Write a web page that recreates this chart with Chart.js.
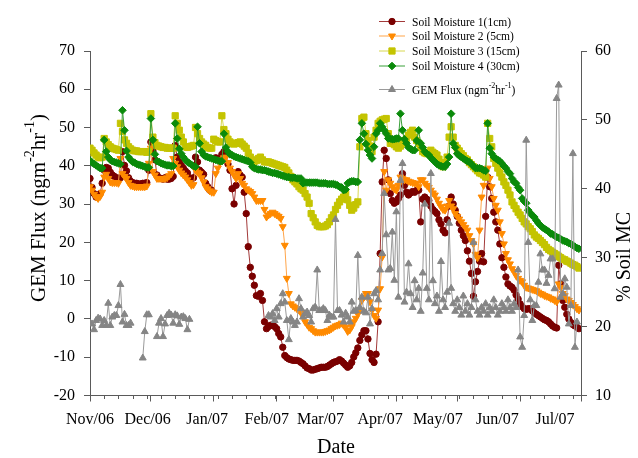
<!DOCTYPE html>
<html>
<head>
<meta charset="utf-8">
<script src="https://cdn.jsdelivr.net/npm/chart.js@4.4.1/dist/chart.umd.min.js"></script>
<style>
  html, body { margin: 0; padding: 0; background: #fff; }
  #wrap { width: 638px; height: 458px; }
</style>
</head>
<body>
<div id="wrap"><canvas id="chart" width="638" height="458"></canvas></div>
<script>
// x axis is in days since Nov 1 2006
const monthLabels = ['Nov/06', 'Dec/06', 'Jan/07', 'Feb/07', 'Mar/07', 'Apr/07', 'May/07', 'Jun/07', 'Jul/07'];
const monthStartDays = [0, 30, 61, 92, 120, 151, 181, 212, 242];

const fluxTicks = [-20, -10, 0, 10, 20, 30, 40, 50, 60, 70];
const moistureTicks = [10, 20, 30, 40, 50, 60];

// daily soil moisture (%), one value per day starting Nov 1
const soil1 = [
  41.5, 40.2, 39.3, 38.8, 38.9, 39.3, 40.8, 42.7, 43.1, 43.0,
  42.4, 42.0, 41.8, 41.6, 41.5, 41.6, 45.4, 43.4, 42.6, 41.6,
  41.1, 40.9, 40.8, 40.8, 40.7, 40.7, 40.8, 40.8, 40.9, 42.7,
  46.8, 45.5, 44.2, 42.0, 41.6, 41.5, 41.4, 41.6, 41.4, 41.4,
  41.5, 41.8, 46.3, 44.6, 43.9, 43.4, 43.0, 42.6, 42.3, 41.6,
  41.4, 41.6, 44.6, 43.9, 42.7, 42.4, 42.1, 40.8, 40.3, 39.8,
  39.8, 44.4, 44.5, 44.3, 44.4, 45.0, 45.4, 45.0, 43.6, 42.7,
  40.0, 37.8, 40.5, 42.5, 42.0, 41.7, 39.5, 36.4, 31.6, 28.6,
  27.3, 26.0, 24.5, 24.4, 24.8, 23.8, 20.7, 19.7, 20.0, 20.2,
  20.2, 20.0, 19.7, 19.0, 18.5, 17.0, 15.8, 15.5, 15.3, 15.2,
  15.1, 15.1, 15.1, 15.0, 14.8, 14.6, 14.3, 14.0, 13.9, 13.7,
  13.7, 13.8, 13.9, 14.0, 14.1, 14.1, 14.1, 14.2, 14.4, 14.6,
  14.8, 14.9, 15.0, 15.2, 15.0, 14.7, 14.4, 14.1, 14.3, 14.8,
  15.6, 16.2, 16.9, 18.0, 18.8, 19.4, 19.4, 18.2, 16.1, 15.2,
  14.8, 16.0, 20.7, 30.6, 41.0, 45.6, 44.4, 41.3, 39.3, 38.3,
  37.9, 38.1, 38.6, 39.1, 42.2, 40.5, 39.5, 39.1, 39.4, 39.6,
  39.5, 39.8, 39.8, 35.2, 38.5, 38.8, 38.5, 38.3, 37.5, 37.0,
  36.7, 36.4, 35.5, 34.9, 34.0, 33.6, 35.5, 37.5, 38.8, 37.8,
  36.9, 36.0, 35.0, 34.0, 33.2, 32.5, 31.0, 29.5, 27.7, 24.4,
  26.5, 28.0, 29.5, 30.6, 29.4, 36.0, 41.7, 40.3, 38.6, 36.6,
  35.2, 34.0, 32.0, 30.0, 28.6, 27.2, 26.2, 25.9, 25.7, 25.3,
  24.6, 24.0, 23.3, 22.9, 22.6, 22.5, 22.6, 22.6, 22.3, 22.0,
  21.8, 21.6, 21.4, 21.2, 21.0, 20.9, 20.7, 20.4, 20.1, 19.9,
  19.8, 28.9, 26.2, 23.8, 22.8, 21.8, 21.1, 20.6, 20.3, 20.1,
  19.9, 19.7
];

const soil2 = [
  40.3, 39.8, 39.2, 38.8, 38.6, 38.9, 39.5, 41.7, 42.1, 41.5,
  41.0, 40.9, 40.9, 40.9, 40.8, 44.4, 42.2, 41.8, 41.5, 40.9,
  40.5, 40.4, 40.3, 40.3, 40.3, 40.3, 40.3, 40.3, 40.4, 43.7,
  45.9, 42.5, 42.0, 41.5, 41.5, 41.5, 41.5, 41.5, 41.6, 41.9,
  42.2, 44.4, 43.7, 43.2, 42.7, 42.3, 42.0, 41.7, 41.3, 40.9,
  40.5, 40.6, 42.7, 42.4, 42.2, 41.6, 41.0, 40.3, 40.0, 39.7,
  39.5, 39.5, 42.2, 43.0, 43.8, 44.2, 44.5, 44.6, 43.8, 43.0,
  42.5, 42.0, 41.5, 42.2, 41.5, 40.8, 40.5, 40.0, 39.8, 39.6,
  39.3, 38.8, 38.3, 38.3, 38.3, 38.3, 37.0, 35.9, 36.2, 36.4,
  36.6, 36.4, 36.2, 36.0, 35.7, 34.5, 31.8, 27.0, 24.8, 23.3,
  23.0, 22.8, 22.6, 22.4, 22.0, 21.6, 20.7, 20.3, 19.9, 19.7,
  19.4, 19.2, 19.2, 19.2, 19.2, 19.2, 19.3, 19.4, 19.5, 19.7,
  19.9, 20.1, 20.2, 20.3, 20.5, 20.2, 19.9, 19.3, 19.5, 20.0,
  20.7, 21.2, 21.8, 22.4, 23.8, 24.3, 24.8, 24.8, 23.6, 22.4,
  21.6, 21.2, 22.4, 25.5, 30.1, 42.5, 39.8, 41.3, 40.8, 40.3,
  40.0, 39.8, 40.5, 41.7, 41.5, 41.3, 41.3, 41.1, 41.0, 40.9,
  40.8, 40.8, 40.3, 41.3, 41.3, 40.8, 40.5, 40.2, 39.8, 39.4,
  39.1, 38.5, 37.9, 37.4, 37.0, 36.9, 37.5, 38.3, 37.5, 37.1,
  36.4, 36.0, 35.6, 35.2, 34.8, 34.4, 34.0, 33.2, 32.5, 32.0,
  30.5, 30.0, 34.0, 38.8, 40.5, 41.7, 43.0, 41.5, 40.3, 38.6,
  37.6, 36.9, 35.2, 33.5, 32.0, 30.6, 29.7, 29.1, 28.4, 28.0,
  27.4, 27.0, 26.7, 26.5, 26.0, 25.7, 25.6, 25.5, 25.4, 25.3,
  25.2, 25.0, 24.8, 24.7, 24.5, 24.4, 24.3, 24.1, 24.0, 23.8,
  23.6, 26.2, 25.7, 24.8, 24.5, 24.0, 23.8, 23.5, 23.2, 22.9,
  22.6, 22.4
];

const soil3 = [
  45.9, 45.6, 45.2, 44.9, 44.6, 44.5, 44.6, 47.3, 46.8, 46.4,
  46.1, 45.9, 45.8, 45.7, 45.6, 49.5, 48.3, 47.1, 46.6, 46.1,
  45.8, 45.6, 45.5, 45.5, 45.4, 45.4, 45.4, 45.4, 45.3, 45.4,
  50.9, 47.5, 46.7, 46.3, 46.2, 46.1, 46.0, 46.0, 45.9, 45.9,
  45.9, 45.9, 50.6, 49.5, 48.5, 47.5, 46.8, 46.1, 46.0, 46.1,
  46.2, 46.3, 48.9, 48.0, 47.3, 46.8, 46.5, 46.3, 46.0, 45.9,
  45.9, 47.2, 47.0, 46.8, 46.8, 50.6, 48.6, 48.0, 47.2, 46.8,
  46.6, 46.5, 46.6, 46.7, 46.8, 46.5, 46.2, 45.9, 45.2, 44.6,
  44.2, 44.0, 44.1, 44.4, 44.6, 44.2, 43.9, 43.9, 43.9, 43.8,
  43.7, 43.6, 43.5, 43.4, 43.3, 43.2, 43.1, 42.7, 42.3, 41.8,
  41.3, 41.0, 40.7, 40.3, 40.0, 39.8, 39.3, 38.8, 37.9, 36.4,
  35.8, 35.2, 34.7, 34.5, 34.5, 34.5, 34.6, 34.8, 35.2, 35.8,
  36.2, 37.0, 37.6, 38.1, 38.5, 38.8, 39.3, 38.4, 37.6, 36.9,
  37.2, 37.7, 38.1, 46.1, 50.2, 50.4, 48.0, 47.0, 46.2, 45.4,
  47.5, 48.5, 49.5, 49.8, 50.0, 50.1, 50.2, 48.0, 46.6, 46.6,
  46.4, 46.1, 45.9, 46.2, 46.6, 47.0, 47.3, 47.8, 48.2, 48.5,
  47.5, 47.0, 46.6, 46.0, 45.4, 45.2, 45.1, 45.3, 45.6, 45.3,
  45.1, 44.9, 44.3, 43.7, 43.2, 43.8, 44.6, 47.5, 49.0, 47.5,
  46.3, 45.9, 45.5, 45.1, 44.8, 44.4, 44.2, 43.8, 43.5, 43.2,
  42.9, 42.6, 42.3, 42.2, 42.0, 41.7, 49.5, 47.3, 46.1, 44.4,
  43.7, 43.0, 42.3, 41.7, 41.0, 40.5, 39.8, 39.1, 38.1, 37.6,
  37.1, 36.6, 36.2, 35.7, 35.2, 34.9, 34.5, 34.2, 33.8, 33.3,
  33.0, 32.8, 32.5, 32.2, 31.9, 31.5, 31.2, 31.0, 30.8, 30.6,
  30.4, 30.2, 30.0, 29.8, 29.7, 29.5, 29.4, 29.2, 29.0, 28.9,
  28.7, 28.5
];

const soil4 = [
  44.1, 43.8, 43.6, 43.4, 43.2, 43.0, 43.0, 47.1, 45.4, 44.6,
  44.2, 44.0, 43.9, 43.8, 43.7, 43.6, 51.4, 48.5, 45.5, 44.6,
  44.2, 43.9, 43.8, 43.6, 43.5, 43.4, 43.3, 43.2, 43.1, 43.1,
  50.2, 47.1, 45.0, 44.0, 43.9, 43.7, 43.6, 43.5, 43.4, 43.4,
  43.3, 43.3, 49.5, 47.3, 45.8, 45.1, 44.6, 44.2, 43.9, 43.7,
  43.5, 43.3, 43.2, 49.0, 46.6, 45.4, 44.9, 44.7, 44.6, 44.5,
  44.4, 44.3, 44.2, 44.1, 44.0, 44.0, 48.0, 46.0, 45.4, 45.0,
  44.9, 44.7, 44.6, 44.5, 44.4, 44.3, 44.2, 44.1, 44.0, 43.8,
  43.2, 43.0, 42.9, 42.8, 42.8, 42.7, 42.7, 42.6, 42.5, 42.4,
  42.3, 42.3, 42.2, 42.1, 42.0, 41.9, 41.8, 41.7, 41.7, 41.6,
  41.6, 41.6, 41.5, 41.5, 41.5, 40.8, 40.9, 40.9, 40.9, 40.9,
  40.9, 40.9, 40.9, 40.8, 40.8, 40.8, 40.8, 40.7, 40.7, 40.7,
  40.7, 40.6, 40.5, 40.3, 40.2, 39.8, 39.9, 40.8, 41.0, 41.1,
  41.1, 41.0, 41.0, 47.1, 49.5, 48.0, 46.5, 45.6, 44.9, 44.4,
  46.1, 48.0, 48.5, 49.5, 49.0, 48.5, 48.0, 47.3, 47.3, 47.2,
  47.2, 47.3, 47.3, 50.9, 48.5, 47.2, 46.6, 46.0, 45.8, 45.6,
  45.6, 47.0, 48.5, 46.6, 46.0, 45.4, 45.1, 44.9, 44.5, 44.2,
  43.9, 43.6, 43.4, 43.3, 43.2, 43.2, 43.6, 44.6, 50.9, 46.6,
  46.0, 45.1, 44.8, 44.6, 44.4, 44.2, 44.0, 43.9, 43.6, 43.3,
  43.0, 43.0, 43.0, 42.9, 42.7, 42.6, 49.5, 45.9, 45.1, 44.6,
  44.4, 44.2, 44.0, 43.7, 43.3, 43.0, 42.5, 42.2, 41.5, 41.0,
  40.8, 40.2, 39.8, 38.6, 38.2, 37.9, 36.9, 36.5, 36.1, 35.9,
  35.4, 35.0, 34.7, 34.4, 34.2, 34.0, 33.8, 33.5, 33.4, 33.2,
  33.0, 32.9, 32.7, 32.5, 32.4, 32.3, 32.1, 32.0, 31.8, 31.6,
  31.4, 31.3
];

// daily GEM flux (ng m-2 hr-1), null where no measurement
const gemFlux = [
  -1.1, -1.3, -2.8, -0.4, 0.2, 0.0, -1.7, -0.4, -1.7, 4.1,
  -1.7, 0.5, 0.9, 0.9, 3.5, 9.0, -0.8, 1.2, -1.7, -1.7,
  -1.1, null, null, null, null, null, -10.2, -3.3, 1.1, 1.1,
  null, null, null, -4.6, -1.1, 0.1, -4.6, -1.3, 0.9, 1.5,
  1.0, -1.1, 1.1, 0.8, -1.4, 0.5, 0.6, 0.1, -2.8, -0.1,
  null, null, null, null, null, null, null, null, null, null,
  null, null, null, null, null, null, null, null, null, null,
  null, null, null, null, null, null, null, null, null, null,
  null, null, null, null, null, null, null, null, 0.9, 0.5,
  1.4, -0.4, 2.7, 0.5, 4.0, 6.6, 4.4, -0.4, -5.4, 0.1,
  -0.8, -1.7, -0.8, 5.3, 2.7, 0.5, 1.4, 1.8, 0.9, -0.8,
  2.7, 3.1, 12.8, 2.2, 2.2, 2.7, 2.2, -0.4, 1.0, 0.5,
  0.5, 26.0, 2.2, 2.2, 1.0, -0.8, 1.5, 0.5, -0.8, 4.4,
  2.0, 2.2, 16.6, 3.0, 5.7, 2.0, 1.6, 5.7, -1.3, 2.7,
  6.6, 7.4, 5.0, 12.8, 17.1, 32.8, 22.0, 12.8, 13.2, 22.7,
  10.1, 28.0, 5.7, 36.2, 40.6, 4.4, 7.0, 14.4, 6.6, 3.0,
  10.0, 5.0, 8.0, 2.0, 12.0, 30.0, 8.0, 5.0, 38.0, 10.0,
  4.0, 6.0, 2.0, 15.0, 5.0, 3.0, 7.0, 25.0, 8.0, 4.0,
  2.0, 5.0, 3.0, 1.0, 6.0, 2.0, 4.0, 1.0, 3.0, 20.0,
  5.0, 2.0, 1.0, 3.0, 2.0, 4.0, 1.0, 3.0, 2.0, 5.0,
  3.0, 1.0, 2.0, 4.0, 3.0, 2.0, 5.0, 3.0, 2.0, 4.0,
  3.0, 12.8, -4.7, -7.4, 0.9, 46.7, 20.0, 5.0, -0.4, 3.5,
  3.5, 9.6, 17.0, 12.8, 12.8, 9.3, 11.4, 15.7, 15.7, 7.9,
  57.6, 61.1, 5.7, 6.6, 10.5, 8.3, -1.3, 3.5, 43.2, -7.4,
  -0.8, null
];

const FONT = '"Liberation Serif", "Times New Roman", serif';
const AXIS_COLOR = '#5a5a5a';
// month names sit a little tighter than the month ticks
const LABEL_SPREAD = 0.947;

const toPoints = arr => arr.map((v, i) => ({ x: i, y: v }));

function series(label, values, axis, line, fill, style, radius, rotation) {
  return {
    label,
    data: toPoints(values),
    yAxisID: axis,
    borderColor: line,
    borderWidth: 1,
    backgroundColor: fill,
    pointBackgroundColor: fill,
    pointBorderColor: fill,
    pointBorderWidth: 1,
    pointStyle: style,
    pointRadius: radius,
    pointRotation: rotation || 0,
    tension: 0,
    spanGaps: false
  };
}

const datasets = [
  Object.assign(series('Soil Moisture 1(1cm)', soil1, 'y1', '#a33a3a', '#7a0000', 'circle', 3.2), { order: 5 }),
  Object.assign(series('Soil Moisture 2 (5cm)', soil2, 'y1', '#ffa54a', '#ff8a00', 'triangle', 4, 180), { order: 4 }),
  Object.assign(series('Soil Moisture 3 (15cm)', soil3, 'y1', '#d8d850', '#c4c400', 'rect', 4.4), { order: 3 }),
  Object.assign(series('Soil Moisture 4 (30cm)', soil4, 'y1', '#3aa03a', '#0a8a0a', 'rectRot', 3.8), { order: 2 }),
  Object.assign(series('GEM Flux', gemFlux, 'y', '#9a9a9a', '#858585', 'triangle', 4), { order: 1 })
];

// text with superscripts: parts = [[text, isSup], ...]
function richWidth(ctx, parts, size) {
  let w = 0;
  parts.forEach(([t, sup]) => {
    ctx.font = (sup ? Math.round(size * 0.68) : size) + 'px ' + FONT;
    w += ctx.measureText(t).width;
  });
  return w;
}

function drawRich(ctx, parts, x, y, size) {
  let cx = x;
  parts.forEach(([t, sup]) => {
    ctx.font = (sup ? Math.round(size * 0.68) : size) + 'px ' + FONT;
    ctx.fillText(t, cx, sup ? y - size * 0.42 : y);
    cx += ctx.measureText(t).width;
  });
}

const fluxTitle = [['GEM Flux (ngm', false], ['-2', true], ['hr', false], ['-1', true], [')', false]];

const legendRows = [
  { y: 21.5, parts: [['Soil Moisture 1(1cm)', false]] },
  { y: 36, parts: [['Soil Moisture 2 (5cm)', false]] },
  { y: 51, parts: [['Soil Moisture 3 (15cm)', false]] },
  { y: 66, parts: [['Soil Moisture 4 (30cm)', false]] },
  { y: 89.5, parts: [['GEM Flux (ngm', false], ['-2', true], ['hr', false], ['-1', true], [')', false]] }
];

const decor = {
  id: 'decor',
  afterDraw(chart) {
    const ctx = chart.ctx;
    const area = chart.chartArea;
    const xs = chart.scales.x;
    ctx.save();

    // weekly minor ticks on the date axis
    ctx.strokeStyle = AXIS_COLOR;
    ctx.lineWidth = 1;
    ctx.beginPath();
    for (let d = 7; d < 242; d += 7) {
      if (monthStartDays.includes(d)) continue;
      const px = Math.round(xs.getPixelForValue(d)) + 0.5;
      ctx.moveTo(px, area.bottom);
      ctx.lineTo(px, area.bottom + 3.5);
    }
    ctx.stroke();

    ctx.fillStyle = '#000';
    ctx.textBaseline = 'middle';

    // month names
    ctx.font = '16px ' + FONT;
    ctx.textAlign = 'center';
    monthLabels.forEach((name, i) => {
      const px = xs.getPixelForValue(monthStartDays[i] * LABEL_SPREAD);
      ctx.fillText(name, px, area.bottom + 24);
    });

    // x title
    ctx.font = '20px ' + FONT;
    ctx.fillText('Date', 336, 448);

    // left title, rotated
    ctx.textAlign = 'left';
    ctx.save();
    ctx.translate(39, 208);
    ctx.rotate(-Math.PI / 2);
    const w = richWidth(ctx, fluxTitle, 21);
    drawRich(ctx, fluxTitle, -w / 2, 0, 21);
    ctx.restore();

    // right title, rotated
    ctx.save();
    ctx.translate(625, 257);
    ctx.rotate(-Math.PI / 2);
    ctx.font = '20px ' + FONT;
    ctx.textAlign = 'center';
    ctx.fillText('% Soil MC', 0, 0);
    ctx.restore();

    // legend
    const lx0 = 379, lx1 = 405, mx = 392, tx = 412;
    datasets.forEach((ds, i) => {
      const row = legendRows[i];
      ctx.strokeStyle = ds.borderColor;
      ctx.lineWidth = 1;
      ctx.beginPath();
      ctx.moveTo(lx0, row.y);
      ctx.lineTo(lx1, row.y);
      ctx.stroke();
      ctx.fillStyle = ds.pointBackgroundColor;
      ctx.strokeStyle = ds.pointBorderColor;
      Chart.helpers.drawPoint(ctx, {
        pointStyle: ds.pointStyle,
        rotation: ds.pointRotation,
        radius: ds.pointRadius,
        borderWidth: 1
      }, mx, row.y);
      ctx.fillStyle = '#000';
      ctx.textAlign = 'left';
      drawRich(ctx, row.parts, tx, row.y + 1, 11.5);
    });

    ctx.restore();
  }
};

const tickFont = { family: FONT, size: 16 };

new Chart(document.getElementById('chart'), {
  type: 'line',
  data: { datasets },
  options: {
    responsive: false,
    animation: false,
    layout: { padding: { top: 51, left: 0, right: 0, bottom: 0 } },
    plugins: { legend: { display: false }, tooltip: { enabled: false } },
    scales: {
      x: {
        type: 'linear',
        min: 0,
        max: 242,
        afterBuildTicks: s => { s.ticks = monthStartDays.map(v => ({ value: v })); },
        afterFit: s => { s.height = 62.5; },
        ticks: {
          autoSkip: false,
          maxRotation: 0,
          minRotation: 0,
          color: '#000',
          font: tickFont,
          callback: () => ''
        },
        grid: { drawOnChartArea: false, tickLength: 6, color: AXIS_COLOR },
        border: { color: AXIS_COLOR, width: 1 }
      },
      y: {
        position: 'left',
        min: fluxTicks[0],
        max: fluxTicks[fluxTicks.length - 1],
        afterBuildTicks: s => { s.ticks = fluxTicks.map(v => ({ value: v })); },
        afterFit: s => { s.width = 90; },
        ticks: { padding: 9, color: '#000', font: tickFont },
        grid: { drawOnChartArea: false, tickLength: 6, color: AXIS_COLOR },
        border: { color: AXIS_COLOR, width: 1 }
      },
      y1: {
        position: 'right',
        min: moistureTicks[0],
        max: moistureTicks[moistureTicks.length - 1],
        afterBuildTicks: s => { s.ticks = moistureTicks.map(v => ({ value: v })); },
        afterFit: s => { s.width = 57; },
        ticks: { padding: 8, color: '#000', font: tickFont },
        grid: { drawOnChartArea: false, tickLength: 6, color: AXIS_COLOR },
        border: { color: AXIS_COLOR, width: 1 }
      }
    }
  },
  plugins: [decor]
});
</script>
</body>
</html>
